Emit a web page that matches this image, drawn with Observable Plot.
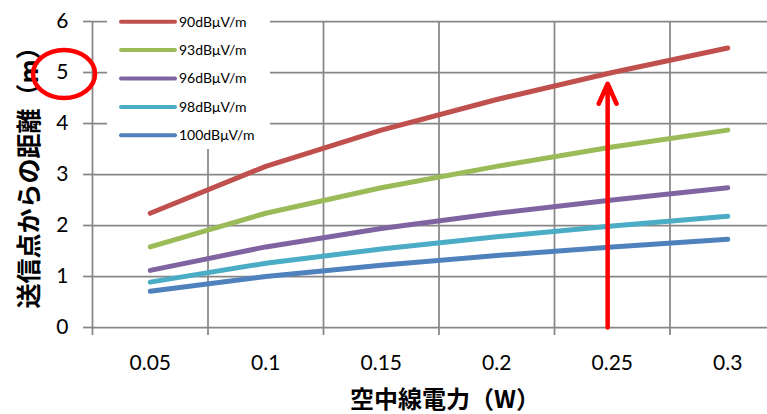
<!DOCTYPE html>
<html>
<head>
<meta charset="utf-8">
<script src="https://cdn.jsdelivr.net/npm/d3@7"></script>
<script src="https://cdn.jsdelivr.net/npm/@observablehq/plot@0.6"></script>
<style>
  html, body { margin: 0; padding: 0; background: #fff; overflow: hidden; }
  #wrap { position: relative; width: 767px; height: 414px; overflow: hidden; }
  #legend { position: absolute; left: 107px; top: 4px; width: 163px; height: 145px; background: #fff; }
  #legend svg { display: block; }
</style>
</head>
<body>
<div id="wrap"><div id="legend"></div></div>
<script>
// ---- data ----
const categories = ["0.05", "0.1", "0.15", "0.2", "0.25", "0.3"];
const series = ["90dBμV/m", "93dBμV/m", "96dBμV/m", "98dBμV/m", "100dBμV/m"];
const v90  = [2.24, 3.16, 3.87, 4.47, 5.00, 5.48];
const v93  = [1.58, 2.24, 2.74, 3.16, 3.54, 3.87];
const v96  = [1.12, 1.58, 1.94, 2.24, 2.50, 2.74];
const v98  = [0.89, 1.26, 1.54, 1.78, 1.99, 2.18];
const v100 = [0.71, 1.00, 1.22, 1.41, 1.58, 1.73];
const colors = ["#C0504D", "#9BBB59", "#8064A2", "#4BACC6", "#4F81BD"];
const yTicks = [0, 1, 2, 3, 4, 5, 6];
const xBoundaries = [-0.5, 0.5, 1.5, 2.5, 3.5, 4.5, 5.5];
const yLabel = "送信点からの距離（m）";
const xLabel = "空中線電力（W）";
// annotations (in data units)
const arrowAnno = [{x: 3.96, y1: 0, y2: 4.78}];
const circleAnno = [{x: -0.742, y: 4.96}];

const allValues = [v90, v93, v96, v98, v100];
const rows = series.flatMap((s, si) => allValues[si].map((v, i) => ({series: s, i, v})));

const grid = "#878787";
const numFont = "Lato, 'Liberation Sans', sans-serif";
const cjkFont = "'Noto Sans CJK JP', sans-serif";

const chart = Plot.plot({
  width: 767,
  height: 414,
  marginLeft: 92,
  marginTop: 21,
  marginBottom: 87,
  marginRight: -18,
  x: {domain: [-0.5, 5.5]},
  y: {domain: [0, 6]},
  color: {domain: series, range: colors},
  style: {fontFamily: numFont, background: "#fff", overflow: "hidden", color: "#000"},
  marks: [
    Plot.ruleY(yTicks, {stroke: grid, strokeWidth: 1.75}),
    Plot.ruleX(xBoundaries, {stroke: grid, strokeWidth: 1.75}),
    Plot.axisX(xBoundaries, {tickSize: 8, tickFormat: () => "", stroke: grid, strokeWidth: 1.75}),
    Plot.axisX(d3.range(categories.length), {tickSize: 0, tickPadding: 28, tickFormat: i => categories[i], fontSize: 21, fill: "#000"}),
    Plot.axisY(yTicks, {tickSize: 9, tickPadding: 15, tickFormat: d => String(d), fontSize: 21, stroke: grid, strokeWidth: 1.75, fill: "#000", label: null}),
    Plot.line(rows, {x: "i", y: "v", z: "series", stroke: "series", strokeWidth: 5, strokeLinecap: "round", strokeLinejoin: "round"}),
    Plot.arrow(arrowAnno, {x1: "x", x2: "x", y1: "y1", y2: "y2", stroke: "#FF0000", strokeWidth: 4.5, headLength: 7.3, headAngle: 48}),
    Plot.text([yLabel], {frameAnchor: "left", textAnchor: "middle", rotate: -90, dx: -63, dy: -3, fontSize: 25, fontWeight: "bold", fontFamily: cjkFont, fill: "#000"}),
    Plot.text([xLabel], {frameAnchor: "bottom", dx: 6, dy: 80, fontSize: 24, fontWeight: "bold", fontFamily: cjkFont, fill: "#000"})
  ]
});

// red ellipse annotation placed with the plot's scales
const sx = chart.scale("x"), sy = chart.scale("y");
d3.select(chart).append("g").selectAll("ellipse").data(circleAnno).join("ellipse")
  .attr("cx", d => sx.apply(d.x)).attr("cy", d => sy.apply(d.y))
  .attr("rx", 31).attr("ry", 24)
  .attr("fill", "none").attr("stroke", "#FF0000").attr("stroke-width", 4.5);

document.getElementById("wrap").prepend(chart);

// legend (inside plot area, top-left)
const lg = d3.select("#legend").append("svg").attr("width", 163).attr("height", 145);
const items = lg.selectAll("g").data(series).join("g")
  .attr("transform", (d, k) => `translate(0, ${17.7 + k * 28.4})`);
items.append("line").attr("x1", 14).attr("x2", 68).attr("y1", 0).attr("y2", 0)
  .attr("stroke", (d, k) => colors[k]).attr("stroke-width", 4).attr("stroke-linecap", "round");
items.append("text").attr("x", 72).attr("y", 0).attr("dy", "0.35em")
  .attr("font-family", numFont).attr("font-size", 14).attr("fill", "#000").text(d => d);
</script>
</body>
</html>
